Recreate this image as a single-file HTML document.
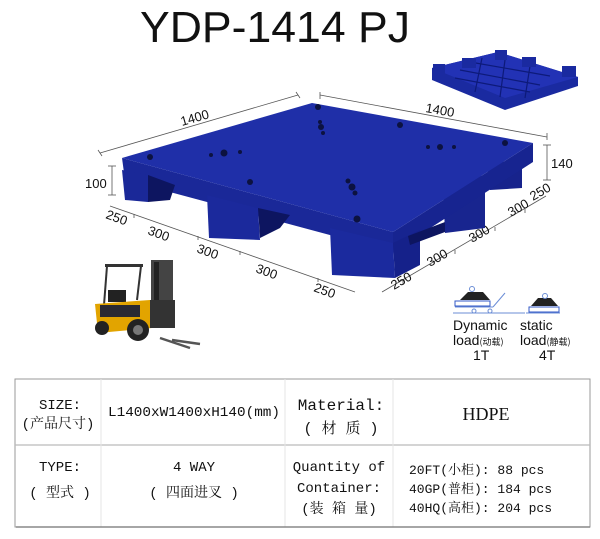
<!DOCTYPE html>
<html><head><meta charset="utf-8"><style>
html,body{margin:0;padding:0;background:#fff;}
body{width:600px;height:539px;overflow:hidden;position:relative;}
svg{position:absolute;left:0;top:0;}
</style></head><body>
<svg width="600" height="539" viewBox="0 0 600 539" xmlns="http://www.w3.org/2000/svg">
<text x="140" y="42" font-family="Liberation Sans, sans-serif" font-size="44" textLength="270" lengthAdjust="spacingAndGlyphs" fill="#111">YDP-1414  PJ</text>

<g>
<polygon points="432,68 498,52 578,77 578,86 505,110 432,80" fill="#1a2aa0"/>
<polygon points="432,68 498,52 578,77 505,98" fill="#2232b5"/>
<g stroke="#0d1a7a" stroke-width="1.2">
<line x1="460" y1="70" x2="540" y2="85"/><line x1="455" y1="78" x2="530" y2="92"/>
<line x1="470" y1="62" x2="550" y2="76"/><line x1="482" y1="58" x2="475" y2="92"/>
<line x1="505" y1="60" x2="500" y2="97"/><line x1="530" y1="66" x2="525" y2="98"/>
</g>
<rect x="433" y="64" width="12" height="10" fill="#1a2aa0"/>
<rect x="462" y="58" width="14" height="10" fill="#1a2aa0"/>
<rect x="495" y="50" width="12" height="10" fill="#1a2aa0"/>
<rect x="522" y="57" width="14" height="10" fill="#1a2aa0"/>
<rect x="562" y="66" width="14" height="11" fill="#1a2aa0"/>
</g>

<g stroke="#555" stroke-width="0.8" fill="none">
<line x1="100" y1="153" x2="298" y2="95"/><line x1="98" y1="150" x2="102" y2="156"/><line x1="296" y1="92" x2="300" y2="98"/>
<line x1="320" y1="95" x2="547" y2="137"/><line x1="320" y1="92" x2="320" y2="99"/><line x1="547" y1="133" x2="547" y2="140"/>
<line x1="112" y1="166" x2="112" y2="195"/><line x1="108" y1="166" x2="116" y2="166"/><line x1="108" y1="195" x2="116" y2="195"/>
<line x1="547" y1="145" x2="547" y2="180"/><line x1="543" y1="145" x2="551" y2="145"/><line x1="543" y1="180" x2="551" y2="180"/>
<line x1="110" y1="206" x2="355" y2="292"/>
<line x1="134" y1="214" x2="134" y2="218"/><line x1="198" y1="236" x2="198" y2="240"/><line x1="240" y1="251" x2="240" y2="255"/><line x1="318" y1="278" x2="318" y2="282"/>
<line x1="382" y1="292" x2="546" y2="196"/>
<line x1="403" y1="280" x2="403" y2="284"/><line x1="455" y1="250" x2="455" y2="254"/><line x1="495" y1="227" x2="495" y2="231"/><line x1="525" y1="209" x2="525" y2="213"/>
</g>
<g font-family="Liberation Sans, sans-serif" font-size="13" fill="#111">
<text x="182" y="126" transform="rotate(-16 182 126)">1400</text>
<text x="425" y="112" transform="rotate(10 425 112)">1400</text>
<text x="85" y="188">100</text>
<text x="551" y="168">140</text>
<text x="105" y="218" transform="rotate(20 105 218)">250</text>
<text x="147" y="234" transform="rotate(20 147 234)">300</text>
<text x="196" y="252" transform="rotate(20 196 252)">300</text>
<text x="255" y="272" transform="rotate(20 255 272)">300</text>
<text x="313" y="291" transform="rotate(20 313 291)">250</text>
<text x="394" y="290" transform="rotate(-30 394 290)">250</text>
<text x="430" y="267" transform="rotate(-30 430 267)">300</text>
<text x="472" y="243" transform="rotate(-30 472 243)">300</text>
<text x="511" y="217" transform="rotate(-30 511 217)">300</text>
<text x="533" y="201" transform="rotate(-30 533 201)">250</text>
</g>

<g>
<polygon points="487,165 522,158 522,188 490,190" fill="#17238c"/>
<polygon points="443,185 485,175 485,228 445,233" fill="#18258f"/>
<polygon points="122,158 393,232 393,252 125,180" fill="#1a2898"/>
<polygon points="393,232 533,143 533,162 393,252" fill="#172490"/>
<polygon points="122,170 148,175 148,202 125,200" fill="#1a2898"/>
<polygon points="148,175 175,185 170,200 148,202" fill="#0d1560"/>
<polygon points="207,195 258,208 260,240 209,238" fill="#1b299c"/>
<polygon points="258,208 290,215 280,228 260,238" fill="#0d1560"/>
<polygon points="330,228 393,243 395,278 332,275" fill="#1b2a9e"/>
<polygon points="393,243 420,230 420,265 395,278" fill="#15218a"/>
<polygon points="408,236 445,222 445,232 410,245" fill="#0d1560"/>
<polygon points="122,158 312,103 533,143 393,232" fill="#1f2fa8"/>
<g fill="#0c1240">
<circle cx="150" cy="157" r="3"/><circle cx="224" cy="153" r="3.5"/><circle cx="211" cy="155" r="2"/><circle cx="240" cy="152" r="2"/>
<circle cx="318" cy="107" r="3"/><circle cx="320" cy="122" r="2"/><circle cx="321" cy="127" r="3"/><circle cx="323" cy="133" r="2"/>
<circle cx="400" cy="125" r="3"/><circle cx="505" cy="143" r="3"/><circle cx="440" cy="147" r="3"/><circle cx="428" cy="147" r="2"/><circle cx="454" cy="147" r="2"/>
<circle cx="250" cy="182" r="3"/><circle cx="348" cy="181" r="2.5"/><circle cx="352" cy="187" r="3.5"/><circle cx="355" cy="193" r="2.5"/>
<circle cx="357" cy="219" r="3.5"/>
</g>
</g>

<g>
<rect x="105" y="264" width="38" height="3" fill="#333"/>
<line x1="107" y1="266" x2="104" y2="305" stroke="#333" stroke-width="2"/>
<line x1="141" y1="266" x2="137" y2="300" stroke="#333" stroke-width="2"/>
<rect x="151" y="260" width="22" height="60" fill="#444"/>
<rect x="154" y="262" width="5" height="58" fill="#222"/>
<rect x="108" y="290" width="18" height="12" fill="#222"/>
<polygon points="95,304 150,300 152,328 98,333" fill="#e2a400"/>
<rect x="100" y="305" width="40" height="12" fill="#2a2a33"/>
<rect x="150" y="300" width="25" height="28" fill="#333"/>
<circle cx="138" cy="330" r="11" fill="#222"/><circle cx="138" cy="330" r="5" fill="#777"/>
<circle cx="102" cy="328" r="7" fill="#222"/>
<line x1="160" y1="338" x2="190" y2="348" stroke="#555" stroke-width="2.5"/>
<line x1="172" y1="340" x2="200" y2="344" stroke="#555" stroke-width="2.5"/>
</g>

<g>
<line x1="453" y1="313" x2="525" y2="313" stroke="#6b8dd6" stroke-width="1"/>
<line x1="526" y1="313" x2="560" y2="313" stroke="#6b8dd6" stroke-width="1"/>
<rect x="455" y="301" width="35" height="5" fill="#fff" stroke="#3358c7" stroke-width="1"/>
<polygon points="460,300 468,292 483,292 490,300" fill="#222"/>
<circle cx="472" cy="289" r="2.5" fill="none" stroke="#6b8dd6"/>
<line x1="455" y1="307" x2="493" y2="307" stroke="#6b8dd6"/>
<line x1="493" y1="307" x2="505" y2="293" stroke="#6b8dd6"/>
<circle cx="474" cy="311" r="2" fill="none" stroke="#6b8dd6"/><circle cx="490" cy="311" r="2" fill="none" stroke="#6b8dd6"/>
<rect x="529" y="307" width="30" height="5" fill="#fff" stroke="#3358c7" stroke-width="1"/>
<polygon points="531,306 538,298 551,298 558,306" fill="#222"/>
<circle cx="545" cy="296" r="2.5" fill="none" stroke="#6b8dd6"/>
</g>
<g font-family="Liberation Sans, sans-serif" font-size="14" fill="#111">
<text x="453" y="330">Dynamic</text>
<text x="520" y="330">static</text>
<text x="453" y="345">load<tspan font-size="9" font-family="Noto Sans CJK SC, sans-serif">(动载)</tspan></text>
<text x="520" y="345">load<tspan font-size="9" font-family="Noto Sans CJK SC, sans-serif">(静载)</tspan></text>
<text x="473" y="360">1T</text>
<text x="539" y="360">4T</text>
</g>

<g>
<rect x="15" y="379" width="575" height="148" fill="#fff" stroke="#999" stroke-width="1"/>
<line x1="15" y1="445" x2="590" y2="445" stroke="#bbb" stroke-width="1.2"/>
<line x1="101" y1="379" x2="101" y2="527" stroke="#e6e6e6"/>
<line x1="285" y1="379" x2="285" y2="527" stroke="#e6e6e6"/>
<line x1="393" y1="379" x2="393" y2="527" stroke="#e6e6e6"/>
<line x1="16" y1="527" x2="590" y2="527" stroke="#888" stroke-width="1.5"/>
</g>
<g font-family="Liberation Mono, Noto Serif CJK SC, monospace" font-size="14" fill="#111" text-anchor="middle">
<text x="60" y="409">SIZE:</text>
<text x="58" y="428">(产品尺寸)</text>
<text x="194" y="416" textLength="172" lengthAdjust="spacingAndGlyphs">L1400xW1400xH140(mm)</text>
<text x="341" y="410" font-size="16">Material:</text>
<text x="341" y="433" font-size="15">( 材 质 )</text>
<text x="486" y="420" font-size="18" font-family="Liberation Serif, serif">HDPE</text>
<text x="60" y="471">TYPE:</text>
<text x="60" y="497">( 型式 )</text>
<text x="194" y="471">4 WAY</text>
<text x="194" y="497">( 四面进叉 )</text>
<text x="339" y="471">Quantity of</text>
<text x="339" y="492">Container:</text>
<text x="339" y="513">(装 箱 量)</text>
<text x="409" y="474" text-anchor="start" font-size="13">20FT(小柜): 88 pcs</text>
<text x="409" y="493" text-anchor="start" font-size="13">40GP(普柜): 184 pcs</text>
<text x="409" y="512" text-anchor="start" font-size="13">40HQ(高柜): 204 pcs</text>
</g>
</svg>
</body></html>
